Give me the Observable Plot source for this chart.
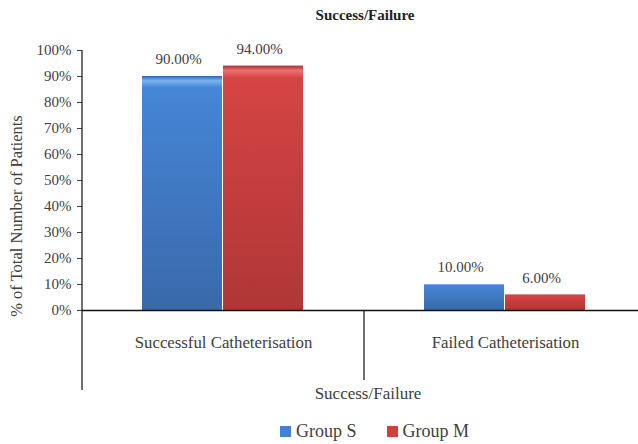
<!DOCTYPE html>
<html>
<head>
<meta charset="utf-8">
<script src="https://cdn.jsdelivr.net/npm/d3@7"></script>
<script src="https://cdn.jsdelivr.net/npm/@observablehq/plot@0.6"></script>
<style>
  html, body { margin: 0; padding: 0; background: #fff; }
  #wrap { position: relative; width: 638px; height: 444px; overflow: hidden; font-family: "Liberation Serif", serif; color: #404040; }
  #wrap svg { position: absolute; left: 0; top: 0; overflow: hidden; }
  .ov { position: absolute; white-space: nowrap; }
  #title { top: 7px; left: 0; width: 730px; text-align: center; font-weight: bold; font-size: 15px; color: #222; }
  #xlabel { top: 384px; left: 0; width: 736px; text-align: center; font-size: 17px; }
  #ylabel { left: 17px; top: 216px; transform: translate(-50%, -50%) rotate(-90deg); font-size: 16.5px; }
  #legend { top: 421px; left: 280px; font-size: 18px; display: flex; align-items: center; }
  #legend .sw { display: inline-block; width: 11px; height: 11px; margin-right: 5px; }
</style>
</head>
<body>
<div id="wrap">
  <div id="title" class="ov">Success/Failure</div>
  <div id="xlabel" class="ov">Success/Failure</div>
  <div id="ylabel" class="ov">% of Total Number of Patients</div>
  <div id="legend" class="ov"></div>
</div>
<script>
const categories = ["Successful Catheterisation", "Failed Catheterisation"];
const groups = ["Group S", "Group M"];
const groupS = [90, 10];
const groupM = [94, 6];
const yTicks = [0, 10, 20, 30, 40, 50, 60, 70, 80, 90, 100];
const groupColors = ["#4382d3", "#cf4040"];

const data = categories.flatMap((c, i) => [
  {category: c, group: groups[0], value: groupS[i]},
  {category: c, group: groups[1], value: groupM[i]}
]);

const plot = Plot.plot({
  width: 638,
  height: 444,
  marginLeft: 82,
  marginRight: -8,
  marginTop: 50,
  marginBottom: 134,
  style: {fontFamily: "Liberation Serif", fontSize: "15px", color: "#404040", background: "transparent"},
  fx: {domain: categories, padding: 0, label: null, axis: "bottom", tickSize: 0, tickPadding: 26},
  x: {domain: groups, axis: null, paddingInner: 0.01, paddingOuter: 0.735},
  y: {domain: [0, 100], ticks: yTicks, tickFormat: d => d + "%", label: null, tickSize: 5, tickPadding: 6},
  color: {domain: groups, range: ["url(#gradS)", "url(#gradM)"]},
  marks: [
    Plot.barY(data, {fx: "category", x: "group", y: "value", fill: "group"}),
    Plot.ruleY([0], {stroke: "#111", strokeWidth: 1.6}),
    Plot.text(data, {fx: "category", x: "group", y: "value", text: d => d.value.toFixed(2) + "%", dy: -17, dx: -4, fontSize: 15})
  ]
});

const svg = d3.select(plot);
const defs = svg.insert("defs", ":first-child");
function grad(id, top, light, mid, bottom) {
  const g = defs.append("linearGradient").attr("id", id).attr("x1", 0).attr("y1", 0).attr("x2", 0).attr("y2", 1);
  g.append("stop").attr("offset", "0%").attr("stop-color", top);
  g.append("stop").attr("offset", "2%").attr("stop-color", light);
  g.append("stop").attr("offset", "5%").attr("stop-color", mid);
  g.append("stop").attr("offset", "100%").attr("stop-color", bottom);
}
grad("gradS", "#2f64b0", "#79b3f2", "#4586d6", "#3a69aa");
grad("gradM", "#a83030", "#f07070", "#d64444", "#b03636");

// enlarge category labels
svg.selectAll("text").filter(function() { return categories.includes(this.textContent); })
  .style("font-size", "16.8px");

const fx = plot.scale("fx");
const y = plot.scale("y");
const y0 = y.apply(0), y100 = y.apply(100);
const left = fx.range[0];
const step = fx.step;
const lines = svg.append("g").attr("stroke", "#111").attr("stroke-width", 1.2);
lines.append("line").attr("x1", left).attr("x2", left).attr("y1", y100).attr("y2", y0 + 80);
for (let i = 1; i < categories.length; i++) {
  const xb = left + i * step;
  lines.append("line").attr("x1", xb).attr("x2", xb).attr("y1", y0).attr("y2", y0 + 70);
}

document.getElementById("wrap").appendChild(plot);

const legend = document.getElementById("legend");
groups.forEach((g, i) => {
  const item = document.createElement("span");
  item.style.display = "inline-flex";
  item.style.alignItems = "center";
  item.style.marginRight = "30px";
  const sw = document.createElement("span");
  sw.className = "sw";
  sw.style.background = groupColors[i];
  const t = document.createElement("span");
  t.textContent = g;
  item.appendChild(sw);
  item.appendChild(t);
  legend.appendChild(item);
});
</script>
</body>
</html>
